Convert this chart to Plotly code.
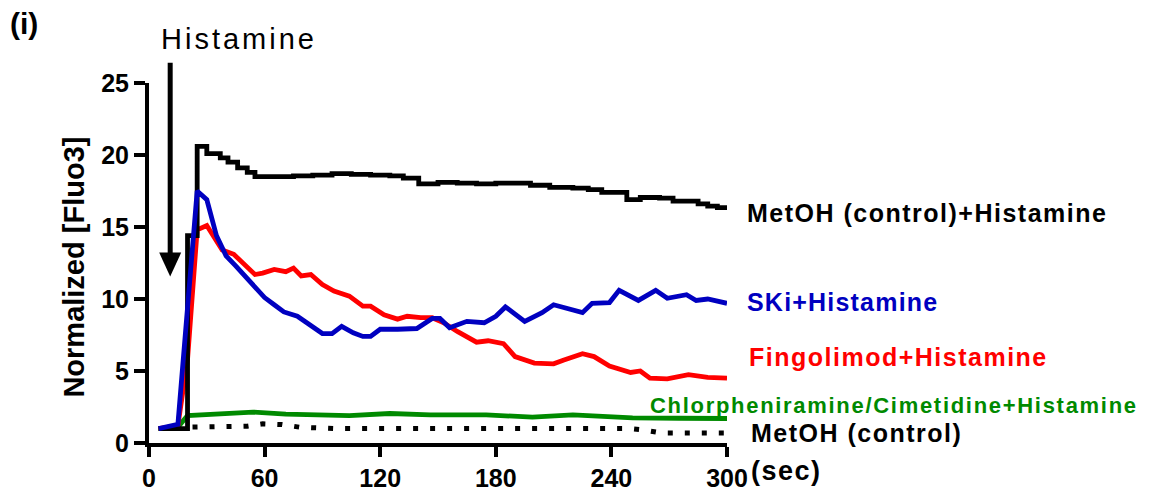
import plotly.graph_objects as go

# ---------------- data ----------------
x_ticks = [0, 60, 120, 180, 240, 300]
x_tick_labels = ["0", "60", "120", "180", "240", "300"]
y_ticks = [0, 5, 10, 15, 20, 25]
y_tick_labels = ["0", "5", "10", "15", "20", "25"]

histamine_time = 11  # arrow marking histamine addition (sec)

metoh_hist_t = [5, 20, 25, 30, 37, 41, 46, 51, 55, 65, 75, 85, 95, 105, 115, 125, 132, 140, 150,
                160, 170, 180, 190, 198, 208, 220, 228, 235, 248, 255, 265, 272, 285, 290, 295, 300]
metoh_hist_y = [1.0, 14.4, 20.6, 20.1, 19.8, 19.5, 19.1, 18.8, 18.5, 18.5, 18.55, 18.6, 18.7, 18.65,
                18.6, 18.55, 18.4, 18.0, 18.1, 18.05, 18.0, 18.05, 18.05, 17.9, 17.75, 17.7, 17.6,
                17.4, 16.9, 17.05, 17.0, 16.8, 16.6, 16.45, 16.35, 16.35]

ski_t = [5, 15, 25, 30, 35, 40, 45, 50, 55, 60, 65, 70, 77, 84, 90, 95, 100, 106, 111, 115, 120,
         129, 139, 147, 151, 156, 165, 174, 180, 185, 190, 195, 204, 210, 225, 230, 239, 244, 254,
         263, 269, 279, 284, 290, 300]
ski_y = [1.0, 1.3, 17.5, 16.9, 14.4, 13.0, 12.3, 11.6, 10.8, 10.1, 9.6, 9.1, 8.8, 8.1, 7.6, 7.6,
         8.1, 7.65, 7.4, 7.4, 7.9, 7.9, 7.95, 8.65, 8.65, 8.0, 8.45, 8.35, 8.8, 9.45, 8.9, 8.45,
         9.05, 9.6, 9.05, 9.7, 9.75, 10.6, 9.9, 10.6, 10.05, 10.3, 9.9, 10.0, 9.7]

fingo_t = [5, 15, 20, 25, 30, 33, 38, 44, 50, 55, 59, 65, 71, 75, 79, 84, 90, 96, 104, 111, 115,
           122, 129, 134, 141, 147, 153, 160, 170, 176, 184, 190, 200, 210, 215, 225, 231, 239,
           250, 255, 260, 269, 280, 290, 300]
fingo_y = [1.0, 1.2, 5.8, 14.8, 15.1, 14.4, 13.4, 13.1, 12.3, 11.7, 11.8, 12.05, 11.9, 12.15,
           11.6, 11.7, 11.0, 10.55, 10.2, 9.5, 9.5, 8.9, 8.6, 8.8, 8.7, 8.7, 8.35, 7.75, 7.0,
           7.1, 6.9, 6.0, 5.55, 5.5, 5.75, 6.2, 6.0, 5.35, 4.9, 5.0, 4.5, 4.45, 4.75, 4.55, 4.5]

chlor_t = [5, 15, 20, 35, 54, 71, 90, 104, 125, 146, 175, 199, 220, 251, 275, 300]
chlor_y = [1.0, 1.1, 1.9, 2.0, 2.15, 2.0, 1.95, 1.9, 2.05, 1.95, 1.95, 1.8, 1.95, 1.75, 1.72, 1.7]

metoh_t = [5, 15, 20, 26, 42, 51, 59, 69, 78, 96, 150, 200, 250, 257, 266, 300]
metoh_y = [1.0, 1.0, 1.1, 1.1, 1.15, 1.17, 1.33, 1.28, 1.1, 1.0, 1.0, 1.0, 1.0, 0.9, 0.7, 0.7]

series_labels = ["MetOH (control)+Histamine", "SKi+Histamine", "Fingolimod+Histamine",
                 "Chlorpheniramine/Cimetidine+Histamine", "MetOH (control)"]

# ---------------- figure ----------------
OFF = 8                      # page body margin added by the browser
W, H = 1152 - OFF, 498 - OFF
X0_PIX, X1_PIX = 149, 727    # page pixel positions of x=0 and x=300
Y0_PIX, Y1_PIX = 443.5, 83.3 # page pixel positions of y=0 and y=25
ML = X0_PIX - OFF
MR = W - (X1_PIX - OFF)
MT = Y1_PIX - OFF
MB = H - (Y0_PIX - OFF)
PW, PH = W - ML - MR, H - MT - MB
FONT = "Liberation Sans, Arial, Helvetica, sans-serif"

BLACK = "#000000"
BLUE = "#0000c0"
RED = "#ff0000"
GREEN = "#008a00"


def px(xpix):
    """page pixel x -> paper x"""
    return (xpix - X0_PIX) / PW


def py(ypix):
    """page pixel y -> paper y"""
    return (Y0_PIX - ypix) / PH


def spaced(text, sp):
    return f'<span style="letter-spacing:{sp}px">{text}</span>'


fig = go.Figure()
fig.add_trace(go.Scatter(x=metoh_t, y=metoh_y, mode="lines",
                         line=dict(color=BLACK, width=5, dash="5px,12px")))
fig.add_trace(go.Scatter(x=chlor_t, y=chlor_y, mode="lines",
                         line=dict(color=GREEN, width=4.8)))
fig.add_trace(go.Scatter(x=fingo_t, y=fingo_y, mode="lines",
                         line=dict(color=RED, width=4.8)))
fig.add_trace(go.Scatter(x=metoh_hist_t, y=metoh_hist_y, mode="lines",
                         line=dict(color=BLACK, width=4.8, shape="hv")))
fig.add_trace(go.Scatter(x=ski_t, y=ski_y, mode="lines",
                         line=dict(color=BLUE, width=4.8)))

tickfont = dict(family=FONT, size=25, color=BLACK, weight="bold")
fig.update_xaxes(range=[0, 300], tickvals=x_ticks, ticktext=x_tick_labels,
                 showline=True, linewidth=4, linecolor=BLACK, ticks="outside",
                 ticklen=10, tickwidth=4, tickcolor=BLACK, tickfont=tickfont,
                 showgrid=False, zeroline=False, automargin=False)
fig.update_yaxes(range=[0, 25], tickvals=y_ticks, ticktext=y_tick_labels,
                 showline=True, linewidth=4, linecolor=BLACK, ticks="outside",
                 ticklen=11, tickwidth=4, tickcolor=BLACK, tickfont=tickfont,
                 showgrid=False, zeroline=False, automargin=False)

ann = []
label_specs = [
    (series_labels[0], 745, 213, BLACK, 25, 1.5),
    (series_labels[1], 745, 302, BLUE, 25, 1.2),
    (series_labels[2], 747, 357, RED, 25, 1.5),
    (series_labels[3], 648, 406, GREEN, 22, 1.7),
    (series_labels[4], 749, 433, BLACK, 25, 1.5),
]
for text, xl, yc, col, size, sp in label_specs:
    ann.append(dict(text=spaced(text, sp), x=px(xl), y=py(yc), xref="paper", yref="paper",
                    xanchor="left", yanchor="middle", showarrow=False,
                    font=dict(family=FONT, size=size, color=col, weight="bold")))

# axis titles and panel text
ann.append(dict(text="Normalized [Fluo3]", x=px(74), y=py(268), xref="paper", yref="paper",
                textangle=-90, xanchor="center", yanchor="middle", showarrow=False,
                font=dict(family=FONT, size=29, color=BLACK, weight="bold")))
ann.append(dict(text=spaced("(sec)", 1.5), x=px(749), y=py(472), xref="paper", yref="paper",
                xanchor="left", yanchor="middle", showarrow=False,
                font=dict(family=FONT, size=27, color=BLACK, weight="bold")))
ann.append(dict(text="(i)", x=px(8), y=py(24), xref="paper", yref="paper",
                xanchor="left", yanchor="middle", showarrow=False,
                font=dict(family=FONT, size=30, color=BLACK, weight="bold")))
ann.append(dict(text=spaced("Histamine", 3), x=px(239), y=py(39), xref="paper", yref="paper",
                xanchor="center", yanchor="middle", showarrow=False,
                font=dict(family=FONT, size=29, color=BLACK)))
fig.update_layout(annotations=ann)

# arrow: shaft + triangular head
head_half_w = 11 / PW * 300          # in seconds
tip_y = (Y0_PIX - 277) / PH * 25     # data units
base_y = (Y0_PIX - 253) / PH * 25
fig.add_shape(type="line", xref="x", yref="paper", x0=histamine_time, x1=histamine_time,
              y0=py(63), y1=py(255), line=dict(color=BLACK, width=5))
fig.add_shape(type="path", xref="x", yref="y",
              path=(f"M {histamine_time - head_half_w},{base_y} L {histamine_time + head_half_w},{base_y} "
                    f"L {histamine_time},{tip_y} Z"),
              fillcolor=BLACK, line=dict(color=BLACK, width=0))

fig.update_layout(width=W, height=H, margin=dict(l=ML, r=MR, t=MT, b=MB),
                  paper_bgcolor="white", plot_bgcolor="white", showlegend=False)

fig.write_html("out.html")
